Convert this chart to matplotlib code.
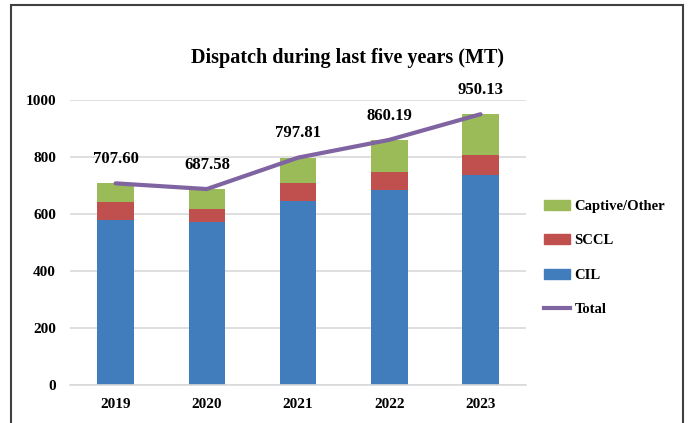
import matplotlib.pyplot as plt
from matplotlib.patches import Rectangle
from matplotlib.lines import Line2D
import numpy as np

years = ["2019", "2020", "2021", "2022", "2023"]
cil = [578, 572, 646, 685, 737]
sccl = [65, 47, 64, 63, 70]
total = [707.60, 687.58, 797.81, 860.19, 950.13]
captive = [t - c - s for t, c, s in zip(total, cil, sccl)]

c_cil = "#417CBD"
c_sccl = "#C0504D"
c_cap = "#9BBB59"
c_tot = "#8064A2"

plt.rcParams["font.family"] = ["Liberation Serif", "DejaVu Serif"]
plt.rcParams["font.weight"] = "bold"

fig = plt.figure(figsize=(6.89, 4.23), dpi=100)
ax = fig.add_axes([0.1016, 0.0898, 0.662, 0.6738])

x = np.arange(len(years))
w = 0.4
ax.bar(x, cil, w, color=c_cil, label="CIL", zorder=2)
ax.bar(x, sccl, w, bottom=cil, color=c_sccl, label="SCCL", zorder=2)
bottom2 = [a + b for a, b in zip(cil, sccl)]
ax.bar(x, captive, w, bottom=bottom2, color=c_cap, label="Captive/Other", zorder=2)
ax.plot(x, total, color=c_tot, lw=3, solid_capstyle="round", zorder=3, label="Total")

for xi, t in zip(x, total):
    ax.annotate(f"{t:.2f}", (xi, t), xytext=(0, 17.5), textcoords="offset points",
                ha="center", va="center", fontsize=12, fontweight="bold")

ax.set_xlim(-0.5, 4.5)
ax.set_ylim(0, 1000)
ax.set_yticks(range(0, 1001, 200))
ax.set_xticks(x)
ax.set_xticklabels(years)
ax.yaxis.grid(True, color="#D9D9D9", lw=1.2, zorder=0)
ax.set_axisbelow(True)
for s in ["top", "right", "left"]:
    ax.spines[s].set_visible(False)
ax.spines["bottom"].set_color("#D9D9D9")
ax.spines["bottom"].set_linewidth(1.2)
ax.tick_params(length=0, labelsize=11)
ax.tick_params(axis="y", pad=10)
ax.tick_params(axis="x", pad=9)

fig.text(0.505, 0.862, "Dispatch during last five years (MT)", ha="center", va="center",
         fontsize=14.5, fontweight="bold")

handles = [
    Rectangle((0, 0), 1, 1, color=c_cap),
    Rectangle((0, 0), 1, 1, color=c_sccl),
    Rectangle((0, 0), 1, 1, color=c_cil),
    Line2D([0], [0], color=c_tot, lw=3),
]
labels = ["Captive/Other", "SCCL", "CIL", "Total"]
fig.legend(handles, labels, loc="center left", bbox_to_anchor=(0.77, 0.39), frameon=False,
           fontsize=10.5, handlelength=1.8, handletextpad=0.3, labelspacing=1.45)

fig.patches.append(Rectangle((11 / 689, -0.05), (683 - 11) / 689, 1 - 5 / 423 + 0.05,
                             transform=fig.transFigure, fill=False, edgecolor="#404040",
                             lw=1.5, zorder=10))

fig.savefig("out.png", dpi=100)
